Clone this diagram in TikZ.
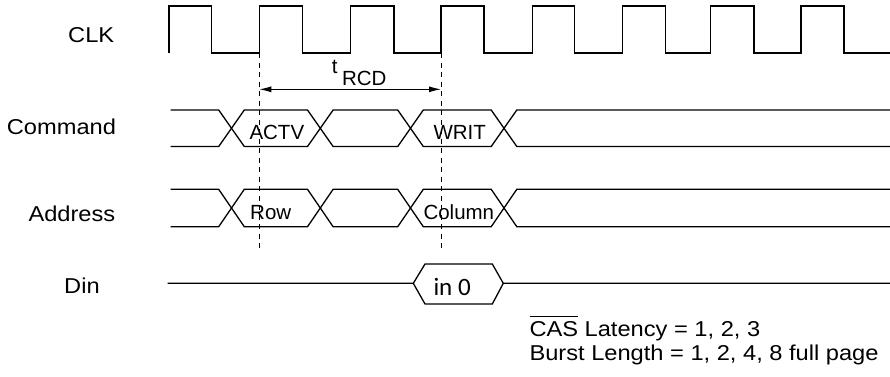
\documentclass[tikz,border=0pt]{standalone}
\usepackage{fontspec}
\setmainfont{Liberation Sans}
\newfontfamily\lblfont[FakeStretch=1.1]{Liberation Sans}
\newfontfamily\dinfont{Carlito}
\usetikzlibrary{arrows.meta}
\newcommand\myovbar[1]{\setbox0\hbox{#1}\rlap{\raisebox{\dimexpr\ht0+4.5pt\relax}{\rule{\wd0}{0.9pt}}}\box0\relax}
\begin{document}
\begin{tikzpicture}[x=1pt,y=-1pt,
  sig/.style={line width=1.3pt, line join=miter},
  guide/.style={line width=0.8pt, dash pattern=on 5pt off 4.5pt},
  lbl/.style={anchor=base west, inner sep=0pt, font=\lblfont\fontsize{21.5}{26}\selectfont},
  bustext/.style={anchor=base west, inner sep=0pt, font=\fontsize{20.5}{24}\selectfont},
  dintext/.style={anchor=base west, inner sep=0pt, font=\dinfont\fontsize{25}{28}\selectfont},
  dim/.style={line width=1pt, {Latex[length=12pt,width=6pt]}-{Latex[length=12pt,width=6pt]}}]
\useasboundingbox (0,0) rectangle (890,376);

% signal names
\node[lbl] (lclk) at (68,42.7) {CLK};
\node[lbl] (lcmd) at (6.7,134) {Command};
\node[lbl] (ladr) at (28.3,221.7) {Address};
\node[lbl] (ldin) at (64,293.3) {Din};

% clock
\draw[sig] (169,53) -- (169,6)
  -- (211.7,6) -- (211.7,53) -- (259.3,53) -- (259.3,6)
  -- (302.7,6) -- (302.7,53) -- (350.7,53) -- (350.7,6)
  -- (394,6) -- (394,53) -- (441,53) -- (441,6)
  -- (484,6) -- (484,53) -- (532.3,53) -- (532.3,6)
  -- (574.3,6) -- (574.3,53) -- (622.7,53) -- (622.7,6)
  -- (665.7,6) -- (665.7,53) -- (710.7,53) -- (710.7,6)
  -- (754,6) -- (754,53) -- (801,53) -- (801,6)
  -- (844,6) -- (844,53) -- (890,53);

% guide lines
\coordinate (g1t) at (259.3,53);
\coordinate (g1b) at (259.3,250);
\coordinate (g2t) at (441,53);
\coordinate (g2b) at (441,252);
\draw[guide] (g1t) -- (g1b);
\draw[guide] (g2t) -- (g2b);

% tRCD
\coordinate (a1) at (259.3,89.3);
\coordinate (a2) at (441,89.3);
\draw[dim] (a1) -- (a2);
\node[bustext] (trcd) at (331.7,73.3) {t\hspace{4.5pt}\raisebox{-11.7pt}{RCD}};

% buses
\def\hh{12.8}
\foreach \T/\B in {110/146.5, 189.3/226.7} {
  \draw[sig] (170.7,\T) -- (231.5-\hh,\T) -- (231.5+\hh,\B) -- (320.3-\hh,\B) -- (320.3+\hh,\T)
     -- (410.5-\hh,\T) -- (410.5+\hh,\B) -- (504-\hh,\B) -- (504+\hh,\T) -- (890,\T);
  \draw[sig] (170.7,\B) -- (231.5-\hh,\B) -- (231.5+\hh,\T) -- (320.3-\hh,\T) -- (320.3+\hh,\B)
     -- (410.5-\hh,\B) -- (410.5+\hh,\T) -- (504-\hh,\T) -- (504+\hh,\B) -- (890,\B);
}
\node[bustext] (actv) at (249.3,139.3) {ACTV};
\node[bustext] (writ) at (433.3,139.3) {WRIT};
\node[bustext] (row) at (250,219) {Row};
\node[bustext] (col) at (423.3,219) {Column};

% Din
\draw[sig] (167.7,283.3) -- (413.3,283.3) -- (425,264) -- (492.3,264) -- (503.3,283.3) -- (890,283.3);
\draw[sig] (413.3,283.3) -- (425,304) -- (492.3,304) -- (503.3,283.3);
\node[dintext] (in0) at (433.3,295) {in 0};

% notes
\node[lbl] (note1) at (529.3,336.7) {\myovbar{CAS} Latency = 1, 2, 3};
\node[lbl] (note2) at (529.3,360.7) {Burst Length = 1, 2, 4, 8 full page};
\end{tikzpicture}
\end{document}
